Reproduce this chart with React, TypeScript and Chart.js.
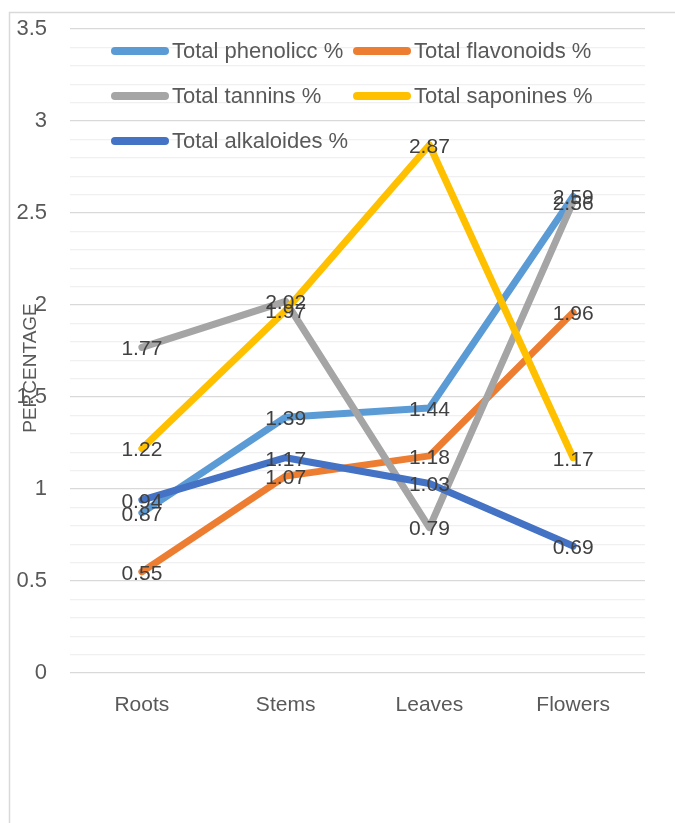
import React, { useEffect, useRef } from 'react';
import { Chart, registerables } from 'chart.js';

Chart.register(...registerables);

const categories = ['Roots', 'Stems', 'Leaves', 'Flowers'];
const phenolic = [0.87, 1.39, 1.44, 2.59];
const flavonoids = [0.55, 1.07, 1.18, 1.96];
const tannins = [1.77, 2.02, 0.79, 2.56];
const saponines = [1.22, 1.97, 2.87, 1.17];
const alkaloids = [0.94, 1.17, 1.03, 0.69];
const seriesNames = ['Total phenolicc %', 'Total flavonoids %', 'Total tannins %', 'Total saponines %', 'Total alkaloides %'];
const seriesColors = ['#5B9BD5', '#ED7D31', '#A5A5A5', '#FFC000', '#4472C4'];
const yAxisTitle = 'PERCENTAGE';

const FONT = "'Liberation Sans', Arial, sans-serif";

const isMajor = (v: number) => Math.abs(v * 2 - Math.round(v * 2)) < 1e-6;

const frameAndLabels = {
  id: 'frameAndLabels',
  beforeDraw(chart: any) {
    const ctx = chart.ctx;
    ctx.save();
    ctx.strokeStyle = '#d9d9d9';
    ctx.lineWidth = 1.5;
    ctx.beginPath();
    ctx.moveTo(9.5, 900);
    ctx.lineTo(9.5, 12.5);
    ctx.lineTo(800, 12.5);
    ctx.stroke();
    ctx.restore();
  },
  afterDatasetsDraw(chart: any) {
    const ctx = chart.ctx;
    ctx.save();
    ctx.font = `21px ${FONT}`;
    ctx.fillStyle = '#404040';
    ctx.textAlign = 'center';
    ctx.textBaseline = 'middle';
    chart.data.datasets.forEach((ds: any, i: number) => {
      const meta = chart.getDatasetMeta(i);
      meta.data.forEach((pt: any, j: number) => {
        ctx.fillText(ds.data[j].toFixed(2), pt.x, pt.y + 2);
      });
    });
    ctx.restore();
  },
  afterDraw(chart: any) {
    const ctx = chart.ctx;
    ctx.save();
    // legend
    const cols = [111, 353];
    const rows = [51, 96, 141];
    ctx.font = `22px ${FONT}`;
    ctx.textBaseline = 'middle';
    ctx.textAlign = 'left';
    seriesNames.forEach((name, i) => {
      const x = cols[i % 2];
      const y = rows[Math.floor(i / 2)];
      ctx.strokeStyle = seriesColors[i];
      ctx.lineWidth = 8;
      ctx.lineCap = 'round';
      ctx.beginPath();
      ctx.moveTo(x + 4, y);
      ctx.lineTo(x + 54, y);
      ctx.stroke();
      ctx.fillStyle = '#595959';
      ctx.fillText(name, x + 61, y + 1);
    });
    // y axis title
    ctx.translate(31, 368);
    ctx.rotate(-Math.PI / 2);
    ctx.textAlign = 'center';
    ctx.font = `19px ${FONT}`;
    ctx.fillStyle = '#595959';
    ctx.fillText(yAxisTitle, 0, 0);
    ctx.restore();
  },
};

export default function App() {
  const ref = useRef<HTMLCanvasElement | null>(null);
  useEffect(() => {
    if (!ref.current) return;
    const seriesData = [phenolic, flavonoids, tannins, saponines, alkaloids];
    const chart = new Chart(ref.current, {
      type: 'line',
      data: {
        labels: categories,
        datasets: seriesData.map((d, i) => ({
          label: seriesNames[i],
          data: d,
          borderColor: seriesColors[i],
          backgroundColor: seriesColors[i],
          borderWidth: 7,
          pointRadius: 0,
          pointHoverRadius: 0,
          borderJoinStyle: 'round' as const,
          borderCapStyle: 'round' as const,
          tension: 0,
          order: seriesData.length - i,
        })),
      },
      options: {
        responsive: false,
        animation: false,
        devicePixelRatio: 1,
        layout: { autoPadding: false, padding: { top: 29, right: 30, left: 0, bottom: 0 } },
        plugins: {
          legend: { display: false },
          tooltip: { enabled: false },
        },
        scales: {
          x: {
            type: 'category',
            offset: true,
            grid: { display: false, drawTicks: false },
            border: { display: false },
            ticks: {
              padding: 20,
              color: '#595959',
              font: { family: FONT, size: 21 },
              maxRotation: 0,
            },
            afterFit: (scale: any) => {
              scale.height = 150;
            },
          },
          y: {
            min: 0,
            max: 3.5,
            border: { display: false },
            grid: {
              drawTicks: false,
              color: (c: any) => (isMajor(c.tick.value) ? '#d9d9d9' : '#f0f0f0'),
              lineWidth: 1.3,
            },
            ticks: {
              stepSize: 0.1,
              autoSkip: false,
              padding: 23,
              color: '#595959',
              font: { family: FONT, size: 22 },
              callback: (v: any) => (isMajor(Number(v)) ? String(Math.round(Number(v) * 2) / 2) : ''),
            },
            afterFit: (scale: any) => {
              scale.width = 70;
              scale.paddingTop = 0;
              scale.paddingBottom = 0;
            },
          },
        },
      },
      plugins: [frameAndLabels],
    });
    return () => chart.destroy();
  }, []);
  return (
    <div style={{ position: 'absolute', left: 0, top: 0, width: 675, height: 823, background: '#fff' }}>
      <canvas ref={ref} width={675} height={823} style={{ width: 675, height: 823, display: 'block' }} />
    </div>
  );
}
